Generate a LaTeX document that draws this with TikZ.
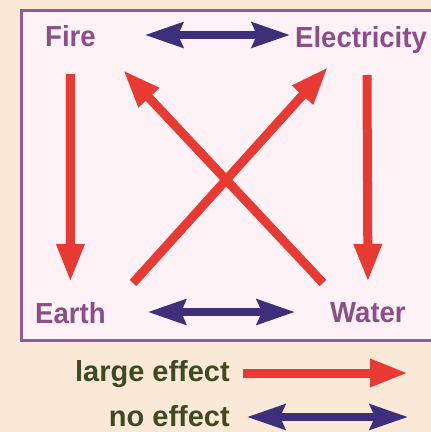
\documentclass[tikz,border=0pt]{standalone}
\usepackage{fontspec}
\setmainfont{Liberation Sans}
\newfontfamily\labfont[FakeStretch=0.95]{Liberation Sans}
\usetikzlibrary{arrows.meta,calc}
\definecolor{bgcol}{HTML}{FBE9D7}
\definecolor{boxfill}{HTML}{FEF2F7}
\definecolor{boxline}{HTML}{8C5C9C}
\definecolor{labcol}{HTML}{8A4F87}
\definecolor{legcol}{HTML}{3F4A23}
\definecolor{redarr}{HTML}{E83A33}
\definecolor{purarr}{HTML}{3E2F7A}
\tikzset{
  lab/.style={inner sep=0pt, text=labcol, font=\labfont\bfseries\fontsize{29}{29}\selectfont},
  leg/.style={inner sep=0pt, text=legcol, font=\bfseries\fontsize{29}{29}\selectfont},
  large/.style={draw=redarr, line width=9pt, -{Triangle[length=38pt,width=26pt]}},
  none/.style={draw=purarr, line width=7.5pt, {Stealth[length=38pt,width=25pt,inset=5pt]}-{Stealth[length=38pt,width=25pt,inset=5pt]}}
}
\begin{document}
\begin{tikzpicture}[x=1pt,y=-1pt]
\useasboundingbox (0,0) rectangle (431,432);
\fill[bgcol] (0,0) rectangle (431,432);
\draw[boxline, line width=3pt, fill=boxfill] (21,10) rectangle (445,340);
\node[lab, anchor=base west] (fire) at (45,46) {Fire};
\node[lab, anchor=base west] (elec) at (295,47) {Electricity};
\node[lab, anchor=base west] (earth) at (35,323) {Earth};
\node[lab, anchor=base west] (water) at (330,322) {Water};
\node[leg, anchor=base east] (lgl) at (230,381) {large effect};
\node[leg, anchor=base east] (lgn) at (230,426) {no effect};
% no effect
\draw[none] ([shift={(49,-11)}]fire.base east) -- ([shift={(-5,-12)}]elec.base west);
\draw[none] ([shift={(42,-11)}]earth.base east) -- ([shift={(-35,-10)}]water.base west);
% large effect
\draw[large] ([shift={(0,28)}]fire.base) -- ([shift={(0,-41)}]earth.base);
\draw[large] ([shift={(72,28)}]elec.base west) -- ([shift={(0,-40)}]water.base);
\draw[large] ([shift={(98,-40)}]earth.base west) -- ([shift={(33,20)}]elec.base west);
\draw[large] ([shift={(-7,-39)}]water.base west) -- ([shift={(78,24)}]fire.base west);
% legend
\draw[large] ([shift={(13,-8)}]lgl.base east) -- ([shift={(178,-8)}]lgl.base east);
\draw[none] ([shift={(17,-9)}]lgn.base east) -- ([shift={(178,-9)}]lgn.base east);
\end{tikzpicture}
\end{document}
